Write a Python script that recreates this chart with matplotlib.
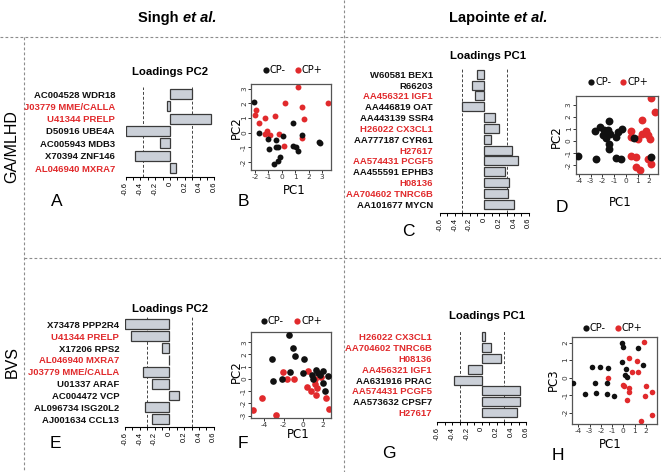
import numpy as np
import matplotlib.pyplot as plt

W, H = 661, 472
fig = plt.figure(figsize=(W / 100, H / 100), dpi=100)

RED = '#e12a2c'
BLACK = '#111111'
BAR_FILL = '#cbd0d8'
BAR_EDGE = '#3a3a3a'
SEP = '#8c8c8c'
SANS = 'Liberation Sans'

# ---- loadings (bar panels)
a_genes = ['AC004528 WDR18', 'J03779 MME/CALLA', 'U41344 PRELP', 'D50916 UBE4A',
           'AC005943 MDB3', 'X70394 ZNF146', 'AL046940 MXRA7']
a_red = [0, 1, 1, 0, 0, 0, 1]
a_load = [0.30, -0.035, 0.56, -0.59, -0.14, -0.47, 0.075]

c_genes = ['W60581 BEX1', 'R66203', 'AA456321 IGF1', 'AA446819 OAT', 'AA443139 SSR4',
           'H26022 CX3CL1', 'AA777187 CYR61', 'H27617', 'AA574431 PCGF5',
           'AA455591 EPHB3', 'H08136', 'AA704602 TNRC6B', 'AA101677 MYCN']
c_red = [0, 0, 1, 0, 0, 1, 0, 1, 1, 0, 1, 1, 0]
c_load = [-0.095, -0.17, -0.125, -0.305, 0.15, 0.20, 0.09, 0.38, 0.46, 0.28, 0.33, 0.32, 0.40]

e_genes = ['X73478 PPP2R4', 'U41344 PRELP', 'X17206 RPS2', 'AL046940 MXRA7',
           'J03779 MME/CALLA', 'U01337 ARAF', 'AC004472 VCP', 'AL096734 ISG20L2',
           'AJ001634 CCL13']
e_red = [0, 1, 0, 1, 1, 0, 0, 0, 0]
e_load = [-0.60, -0.52, -0.10, -0.01, -0.36, -0.23, 0.13, -0.33, -0.23]

g_genes = ['H26022 CX3CL1', 'AA704602 TNRC6B', 'H08136', 'AA456321 IGF1',
           'AA631916 PRAC', 'AA574431 PCGF5', 'AA573632 CPSF7', 'H27617']
g_red = [1, 1, 1, 1, 0, 1, 0, 1]
g_load = [0.045, 0.12, 0.26, -0.18, -0.38, 0.52, 0.52, 0.48]

load_ticks = [-0.6, -0.4, -0.2, 0, 0.2, 0.4, 0.6]
load_labels = ['-0.6', '-0.4', '-0.2', '0', '0.2', '0.4', '0.6']

# ---- PCA scores (scatter panels), CP- then CP+
b_neg_x = [-2.09, -1.69, -1.02, -0.97, -0.40, -0.47, -0.27, 0.10, -0.15, -0.27, -0.57,
           0.85, 0.85, 1.09, 1.22, 1.54, 2.76, 2.84]
b_neg_y = [2.09, -0.02, -0.40, -1.12, -0.52, -1.01, -1.01, -0.22, -1.64, -1.91, -2.13,
           0.63, -0.94, -0.97, -1.24, -0.16, -0.61, -0.74]
b_pos_x = [1.22, 0.22, 1.52, 1.67, 3.46, -1.94, -2.01, -1.22, -0.52, -1.69, -1.09,
           -0.90, -0.22, 0.17, 1.47, -1.27]
b_pos_y = [3.10, 2.02, 1.73, 0.90, 2.02, 1.53, 1.19, 1.01, 1.12, 0.67, 0.11,
           -0.18, -0.11, -0.90, -0.34, -0.10]

d_neg_x = [-4.06, -2.56, -2.64, -2.22, -1.85, -1.45, -1.99, -1.70, -1.36, -1.51, -1.45,
           -1.42, -0.80, -0.65, -0.37, -0.85, -0.45, 0.68, 2.13]
d_neg_y = [-1.28, -1.53, 0.81, 1.17, 0.89, 1.64, 0.47, 0.28, 0.61, 0.89, -0.28,
           -0.69, 0.33, 0.75, 1.03, -1.42, -1.53, 0.28, -1.33]
d_pos_x = [2.13, 2.47, 1.42, 0.43, 0.48, 1.05, 1.34, 1.70, 1.85, 2.05, 0.48, 0.85,
           0.85, 1.19, 1.85, 2.13]
d_pos_y = [3.58, 2.42, 1.78, 0.81, 0.33, 0.19, 0.61, 0.83, 0.47, 0.19, -1.28, -1.33,
           -2.17, -2.44, -1.47, -1.94]

f_neg_x = [-1.42, -1.02, -0.85, -3.15, 0.10, -3.05, -2.20, -1.36, 0.00, 1.29, 1.53,
           2.03, 2.47, 1.02, 1.97, 2.20, 1.69, 0.85]
f_neg_y = [3.60, 2.56, 1.88, 1.63, 1.61, -0.14, -0.03, 0.60, 0.52, 0.74, 0.46,
           0.65, 0.25, 0.00, -0.30, -0.95, 0.33, 0.33]
f_pos_x = [-2.03, -0.92, -1.69, 0.51, 1.80, 1.19, 0.34, 0.75, 1.36, 1.29, 2.31, 2.64,
           -4.24, -5.08, -2.78, 1.20]
f_pos_y = [0.60, 0.00, 0.00, 0.65, 0.19, -0.03, -0.63, -0.95, -0.76, -1.31, -1.53,
           -2.48, -1.58, -2.53, -2.94, -0.40]

h_neg_x = [-4.45, -3.44, -2.82, -2.08, -1.34, -2.52, -2.43, -1.48, -1.48, -0.80, -0.15,
           0.00, -0.15, 0.24, 0.18, 0.30, 1.28, 1.78]
h_neg_y = [-0.29, -0.95, 0.59, 0.63, 0.57, -0.29, -0.86, -0.29, -0.95, -1.05, 2.00,
           1.73, 0.88, 0.50, 0.15, 0.06, 1.71, 0.72]
h_pos_x = [1.87, 0.50, 0.80, 1.19, 1.28, -1.34, 0.00, 0.09, 0.50, 0.50, 0.36, 1.99,
           2.52, 1.93, 1.57, 2.52]
h_pos_y = [2.04, 1.10, 0.34, 0.97, 0.30, -0.04, -0.42, -0.51, -0.61, -0.84, -1.31,
           -0.48, -0.84, -1.03, -2.48, -2.13]


def rect(x0, y0, x1, y1):
    return [x0 / W, 1 - y1 / H, (x1 - x0) / W, (y1 - y0) / H]


# overlay in pixel coordinates for separators and free text
ov = fig.add_axes([0, 0, 1, 1])
ov.set_xlim(0, W)
ov.set_ylim(H, 0)
ov.axis('off')

dash = dict(color=SEP, lw=0.8, ls=(0, (2.5, 2)))
ov.plot([0, W], [37, 37], **dash)
ov.plot([24, W], [258, 258], **dash)
ov.plot([344, 344], [0, H], **dash)
ov.plot([24, 24], [37, H], **dash)

ov.text(12, 147, 'GA/MLHD', rotation=90, ha='center', va='center', fontsize=11.5, family=SANS)
ov.text(12, 362, 'BVS', rotation=90, ha='center', va='center', fontsize=11.5, family=SANS)

ov.text(183, 18, 'Singh ', ha='right', va='center', fontsize=10.5, weight='bold', family=SANS)
ov.text(183, 18, 'et al.', ha='left', va='center', fontsize=10.5, weight='bold',
        style='italic', family=SANS)
ov.text(514, 18, 'Lapointe ', ha='right', va='center', fontsize=10.5, weight='bold', family=SANS)
ov.text(514, 18, 'et al.', ha='left', va='center', fontsize=10.5, weight='bold',
        style='italic', family=SANS)

for letter, (lx, ly) in {'A': (57, 202), 'B': (243, 202), 'C': (408, 231), 'D': (562, 207),
                         'E': (55, 443), 'F': (243, 444), 'G': (389, 453),
                         'H': (558, 455)}.items():
    ov.text(lx, ly, letter, ha='center', va='center', fontsize=12.5, family=SANS)


def loadings_panel(genes, vals, red, zero_x, y_first, y_last, y_axis, label_right,
                   cuts, title, title_x, title_y):
    n = len(genes)
    sp = (y_last - y_first) / (n - 1)
    unit = 74.0
    ax = fig.add_axes(rect(zero_x - 0.6 * unit, y_first - 0.6 * sp,
                           zero_x + 0.6 * unit, y_axis))
    ax.patch.set_alpha(0)
    ax.set_xlim(-0.6, 0.6)
    ax.set_ylim((y_axis - y_first) / sp, -0.6)
    ax.barh(range(n), vals, height=0.83, color=BAR_FILL, edgecolor=BAR_EDGE, lw=0.9)
    for c in cuts:
        ax.axvline(c, color='#444444', lw=0.7, ls=(0, (3, 2)), zorder=0)
    for s in ['top', 'right', 'left']:
        ax.spines[s].set_visible(False)
    ax.spines['bottom'].set_bounds(-0.6, 0.6)
    ax.spines['bottom'].set_linewidth(0.8)
    ax.set_xticks(load_ticks, labels=load_labels, rotation=90, fontsize=5.5, family=SANS)
    ax.set_xticks(np.arange(-0.6, 0.61, 0.1), minor=True)
    ax.tick_params(axis='x', which='both', length=2.5, width=0.7, pad=1)
    pad = (zero_x - 0.6 * unit - label_right) * 72 / 100
    ax.set_yticks(range(n), labels=genes, fontsize=6.8, weight='bold', family=SANS)
    ax.tick_params(axis='y', length=0, pad=pad)
    for lab, r in zip(ax.get_yticklabels(), red):
        lab.set_color(RED if r else BLACK)
    ov.text(title_x, title_y, title, ha='center', va='center', fontsize=8.2,
            weight='bold', family=SANS)
    return ax


loadings_panel(a_genes, a_load, a_red, 170, 94, 168, 177, 115, [-0.37, 0.30],
               'Loadings PC2', 170, 72)
loadings_panel(c_genes, c_load, c_red, 484.3, 74.3, 204.3, 212.7, 433, [-0.3, 0.3],
               'Loadings PC1', 488, 56)
loadings_panel(e_genes, e_load, e_red, 169.3, 324.3, 419.3, 426.7, 119.3, [-0.3, 0.3],
               'Loadings PC2', 170, 309)
loadings_panel(g_genes, g_load, g_red, 481.7, 336.7, 412.7, 421.7, 431.7, [-0.3, 0.3],
               'Loadings PC1', 487, 316)


def pca_panel(box, neg, pos, xlim, ylim, xticks, yticks, ylabel, size,
              xlabel_xy, ylabel_xy, legend):
    ax = fig.add_axes(rect(*box))
    ax.set_xlim(*xlim)
    ax.set_ylim(*ylim)
    ax.scatter(pos[0], pos[1], s=size, color=RED, lw=0, zorder=2)
    ax.scatter(neg[0], neg[1], s=size, color=BLACK, lw=0, zorder=3)
    ax.set_xticks(xticks, labels=[str(t) for t in xticks], fontsize=5.3)
    ax.set_yticks(yticks, labels=[str(t) for t in yticks], fontsize=5.3, rotation=90,
                  va='center')
    ax.tick_params(length=2, width=0.7, pad=0.8, colors='#333333')
    for s in ax.spines.values():
        s.set_color('#555555')
        s.set_linewidth(0.9)
    ov.text(*xlabel_xy, 'PC1', ha='center', va='center', fontsize=8.5)
    ov.text(*ylabel_xy, ylabel, ha='center', va='center', fontsize=8.5, rotation=90)
    ly, bx, rx = legend
    ov.plot([bx], [ly], 'o', color=BLACK, ms=4.5, mew=0)
    ov.text(bx + 4, ly, 'CP-', ha='left', va='center', fontsize=7)
    ov.plot([rx], [ly], 'o', color=RED, ms=4.5, mew=0)
    ov.text(rx + 4, ly, 'CP+', ha='left', va='center', fontsize=7)
    return ax


pca_panel((251, 84.3, 331, 170), (b_neg_x, b_neg_y), (b_pos_x, b_pos_y),
          (-2.3, 3.67), (-2.55, 3.3), [-2, -1, 0, 1, 2, 3], [-2, -1, 0, 1, 2, 3],
          'PC2', 18, (294, 190), (236, 128), (70, 266, 298))
pca_panel((575.7, 95.7, 657.7, 174), (d_neg_x, d_neg_y), (d_pos_x, d_pos_y),
          (-4.28, 2.72), (-2.75, 3.78), [-4, -3, -2, -1, 0, 1, 2], [-2, -1, 0, 1, 2, 3],
          'PC2', 32, (620, 202), (556, 137), (81.7, 591, 623))
pca_panel((251, 332.3, 331, 417.7), (f_neg_x, f_neg_y), (f_pos_x, f_pos_y),
          (-5.32, 2.81), (-3.16, 3.81), [-4, -2, 0, 2], [-3, -2, -1, 0, 1, 2, 3],
          'PC2', 23, (298, 434), (236, 372), (320.7, 264, 297))
pca_panel((572.3, 337.3, 656.7, 424.3), (h_neg_x, h_neg_y), (h_pos_x, h_pos_y),
          (-4.54, 2.97), (-2.67, 2.3), [-4, -3, -2, -1, 0, 1, 2], [-2, -1, 0, 1, 2],
          'PC3', 16, (610, 445), (553, 380), (328, 586, 618))

fig.savefig('out.png', dpi=100)
